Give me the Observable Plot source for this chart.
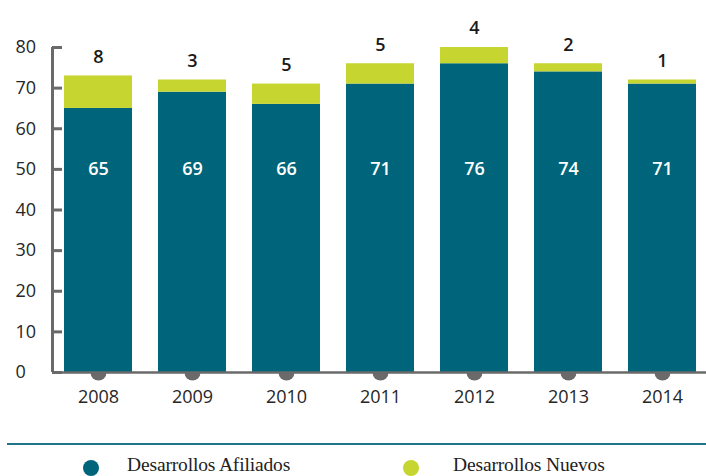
<!DOCTYPE html>
<html>
<head>
<meta charset="utf-8">
<script src="https://cdn.jsdelivr.net/npm/d3@7"></script>
<script src="https://cdn.jsdelivr.net/npm/@observablehq/plot@0.6"></script>
<style>
  html, body { margin: 0; padding: 0; background: #fff; }
  #wrap { position: relative; width: 706px; height: 476px; overflow: hidden; }
  #chart svg { display: block; }
  #rule { position: absolute; left: 7px; right: 0; top: 443px; height: 0; border-top: 2px solid #1e7389; }
  .leg { position: absolute; top: 455px; height: 20px; line-height: 20px; display: flex; align-items: center; font-family: "Liberation Serif", serif; font-size: 19.5px; color: #222; letter-spacing: -0.15px; white-space: nowrap; }
  .leg .sw { width: 16px; height: 16px; border-radius: 50%; display: inline-block; }
</style>
</head>
<body>
<div id="wrap">
  <div id="chart"></div>
  <div id="rule"></div>
  <div id="legend"></div>
</div>
<script>
const years = [2008, 2009, 2010, 2011, 2012, 2013, 2014];
const afiliados = [65, 69, 66, 71, 76, 74, 71];
const nuevos = [8, 3, 5, 5, 4, 2, 1];
const seriesNames = ["Desarrollos Afiliados", "Desarrollos Nuevos"];
const seriesColors = ["#00657a", "#c6d530"];
const yTicks = [0, 10, 20, 30, 40, 50, 60, 70, 80];

const W = 706, H = 430, mL = 52, mR = 0, mT = 47, mB = 58;
const step = 94;            // px per year
const x0 = 2008 - 46 / step; // frame left
const x1 = 2008 + (W - 98) / step;
const hw = 34 / step;       // half bar width in year units

const rows = years.flatMap((yr, i) => [
  {year: yr, series: seriesNames[0], lo: 0, hi: afiliados[i], value: afiliados[i]},
  {year: yr, series: seriesNames[1], lo: afiliados[i], hi: afiliados[i] + nuevos[i], value: nuevos[i]}
]);
const totals = years.map((yr, i) => ({year: yr, total: afiliados[i] + nuevos[i], nuevo: nuevos[i], afil: afiliados[i]}));

const gray = "#6a6a6a";
const ink = "#262626";
const font = "'Open Sans', sans-serif";

const chart = Plot.plot({
  width: W, height: H,
  marginLeft: mL, marginRight: mR, marginTop: mT, marginBottom: mB,
  style: {fontFamily: font, background: "#fff", overflow: "visible"},
  x: {type: "linear", domain: [x0, x1], axis: null},
  y: {domain: [0, 80], axis: null},
  color: {domain: seriesNames, range: seriesColors},
  marks: [
    Plot.dot(years, {x: d => d, y: () => 0, r: 8, fill: gray}),
    Plot.rect(rows, {x1: d => d.year - hw, x2: d => d.year + hw, y1: "lo", y2: "hi", fill: "series"}),
    Plot.ruleY([0], {stroke: gray, strokeWidth: 2.5}),
    Plot.ruleX([x0], {y1: () => 0, y2: () => 80, stroke: gray, strokeWidth: 3}),
    Plot.tickY(yTicks, {y: d => d, insetRight: W - mL - mR - 10, stroke: gray, strokeWidth: 3}),
    Plot.text(yTicks, {y: d => d, frameAnchor: "left", dx: -37, textAnchor: "start", text: d => String(d), fontSize: 18, fill: ink}),
    Plot.text(years, {x: d => d, y: () => 0, dy: 25, text: d => String(d), fontSize: 18, fill: ink}),
    Plot.text(totals, {x: "year", y: "total", dy: -19, text: d => String(d.nuevo), fontSize: 18, fontWeight: 600, fill: "#1a1a1a"}),
    Plot.text(totals, {x: "year", y: () => 50, text: d => String(d.afil), fontSize: 18, fontWeight: 600, fill: "#fff"})
  ]
});
document.getElementById("chart").appendChild(chart);

const legendPos = [{cx: 91, tx: 127}, {cx: 411, tx: 453}];
const legend = document.getElementById("legend");
seriesNames.forEach((name, i) => {
  const sw = document.createElement("div");
  sw.className = "leg";
  sw.style.left = (legendPos[i].cx - 8) + "px";
  sw.style.top = "458px";
  sw.innerHTML = `<span class="sw" style="background:${seriesColors[i]}"></span>`;
  legend.appendChild(sw);
  const t = document.createElement("div");
  t.className = "leg";
  t.style.left = legendPos[i].tx + "px";
  t.textContent = name;
  legend.appendChild(t);
});
</script>
</body>
</html>
